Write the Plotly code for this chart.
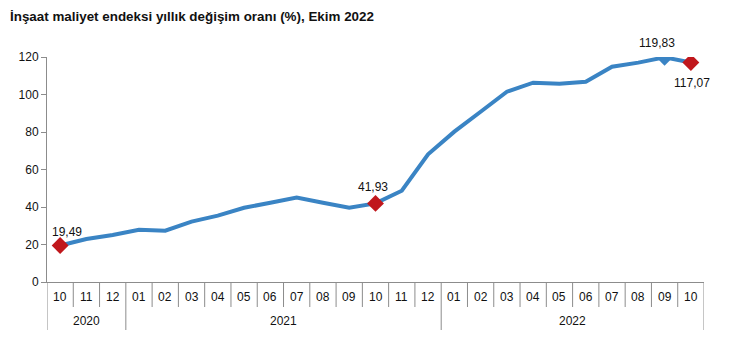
import plotly.graph_objects as go

years = ["2020"] * 3 + ["2021"] * 12 + ["2022"] * 10
months = ["10", "11", "12",
          "01", "02", "03", "04", "05", "06", "07", "08", "09", "10", "11", "12",
          "01", "02", "03", "04", "05", "06", "07", "08", "09", "10"]
values = [19.49, 22.9, 25.1,
          27.9, 27.4, 32.2, 35.4, 39.6, 42.3, 45.0, 42.3, 39.6, 41.93, 48.7, 68.1,
          80.2, 90.8, 101.5, 106.3, 105.8, 106.8, 114.8, 117.0, 119.83, 117.07]
y_ticks = [0, 20, 40, 60, 80, 100, 120]

# highlighted points: index, colour, marker size, label shift
highlights = [(0, "#C0171C", 13, 7, 13), (12, "#C0171C", 13, -3, 16),
              (23, "#3A84C4", 13, -8, 14), (24, "#C0171C", 13, 1, -21)]

FONT = "Liberation Sans, Arial, sans-serif"
LINE_COL = "#3A84C4"
AX_COL = "#8C8C8C"
TXT = "#111111"

# page body has an 8px margin, so the figure is shrunk and margins reduced by 8px
W, H = 746, 356
plot_h = 225.0

xs = list(range(len(values)))
fig = go.Figure()
fig.add_trace(go.Scatter(x=xs, y=values, mode="lines",
                         line=dict(color=LINE_COL, width=4), hoverinfo="skip"))
for idx, col, sz, dx, dy in highlights:
    fig.add_trace(go.Scatter(x=[idx], y=[values[idx]], mode="markers",
                             marker=dict(symbol="diamond", size=sz, color=col),
                             hoverinfo="skip"))
    fig.add_annotation(x=idx, y=values[idx], text=f"{values[idx]:.2f}".replace(".", ","),
                       showarrow=False, xshift=dx, yshift=dy,
                       font=dict(family=FONT, size=12, color=TXT))

month_depth = -25 / plot_h
year_depth = -48 / plot_h

# boundaries and labels of the two-level category axis
year_bounds = {-0.5, len(values) - 0.5}
for i in range(1, len(values)):
    if years[i] != years[i - 1]:
        year_bounds.add(i - 0.5)
for b in [i - 0.5 for i in range(len(values) + 1)]:
    fig.add_shape(type="line", xref="x", yref="paper", x0=b, x1=b, y0=0,
                  y1=year_depth if b in year_bounds else month_depth,
                  line=dict(color=AX_COL, width=1))
for i, m in enumerate(months):
    fig.add_annotation(x=i, y=-15 / plot_h, xref="x", yref="paper", text=m,
                       showarrow=False, yanchor="middle",
                       font=dict(family=FONT, size=12, color=TXT))
seen = []
for yv in years:
    if yv not in seen:
        seen.append(yv)
for yv in seen:
    idxs = [i for i, v in enumerate(years) if v == yv]
    fig.add_annotation(x=(idxs[0] + idxs[-1]) / 2, y=-39 / plot_h, xref="x", yref="paper",
                       text=yv, showarrow=False, yanchor="middle",
                       font=dict(family=FONT, size=12, color=TXT))

fig.update_layout(
    width=W, height=H,
    margin=dict(l=39, r=50, t=49, b=82),
    paper_bgcolor="white", plot_bgcolor="white",
    showlegend=False,
    title=dict(text="<b>İnşaat maliyet endeksi yıllık değişim oranı (%), Ekim 2022</b>",
               x=2 / W, xanchor="left", y=1 - 8 / H, yanchor="middle",
               font=dict(family=FONT, size=13.4, color=TXT)),
    xaxis=dict(range=[-0.5, len(values) - 0.5], showticklabels=False, showgrid=False,
               zeroline=False, showline=True, linecolor=AX_COL, linewidth=1, ticks="",
               automargin=False),
    yaxis=dict(range=[0, 120], tickvals=y_ticks, showgrid=False, zeroline=False,
               showline=True, linecolor=AX_COL, linewidth=1, ticks="outside",
               ticklen=5, tickcolor=AX_COL, automargin=False,
               tickfont=dict(family=FONT, size=12, color=TXT)),
)
fig.write_html("out.html")
